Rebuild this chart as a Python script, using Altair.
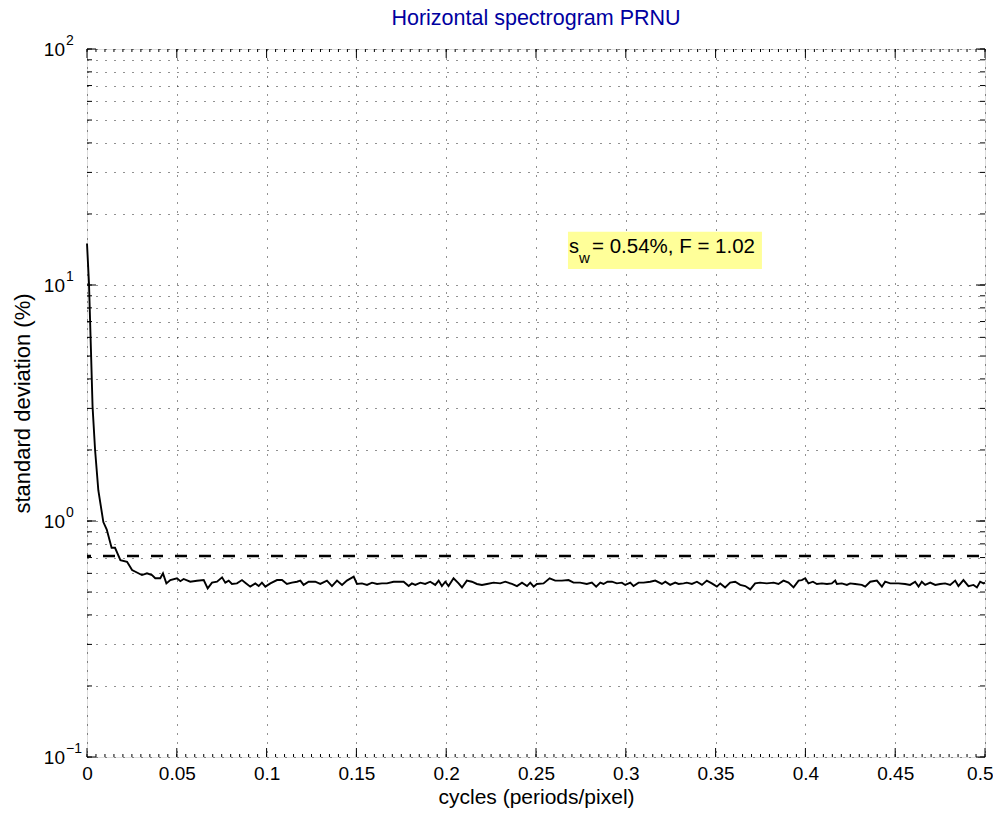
import altair as alt
import pandas as pd

# ---------------- data ----------------
freq = [0.0, 0.0011, 0.0022, 0.0031, 0.0045, 0.0063, 0.0091, 0.011, 0.0137, 0.0156,
        0.0186, 0.0223, 0.0251, 0.0278, 0.0306, 0.0334, 0.0362, 0.0380, 0.0408, 0.0423,
        0.0442, 0.0464, 0.0501, 0.0520, 0.0538, 0.0575, 0.0612, 0.0650, 0.0672, 0.0696,
        0.0724, 0.0752, 0.0770, 0.0789, 0.0807, 0.0835,
        0.0863, 0.0881, 0.0909, 0.0937, 0.0956, 0.0974, 0.0993, 0.1021, 0.1058, 0.1086,
        0.1113, 0.1141, 0.1169, 0.1188, 0.1206, 0.1234, 0.1271, 0.1299, 0.1336, 0.1364,
        0.1392, 0.1420, 0.1447, 0.1485, 0.1503, 0.1531, 0.1559, 0.1587, 0.1615, 0.1642,
        0.1670, 0.1707, 0.1763, 0.1791, 0.1809, 0.1828, 0.1856, 0.1883, 0.1911, 0.1939,
        0.1958, 0.1976, 0.1995, 0.2013, 0.2041, 0.2069, 0.2088, 0.2115, 0.2143, 0.2171,
        0.2199, 0.2227, 0.2264, 0.2301, 0.2329, 0.2366, 0.2394, 0.2422, 0.2450, 0.2468,
        0.2487, 0.2505, 0.2542, 0.2576, 0.2607, 0.2644, 0.2681, 0.2709, 0.2746, 0.2783,
        0.2811, 0.2835, 0.2858, 0.2876, 0.2898, 0.2923, 0.2950, 0.2978, 0.2997, 0.3025,
        0.3043, 0.3071, 0.3099, 0.3136, 0.3164, 0.3201, 0.3220, 0.3247, 0.3275, 0.3294,
        0.3322, 0.3340, 0.3368, 0.3396, 0.3424, 0.3451, 0.3479, 0.3507, 0.3526, 0.3553,
        0.3581, 0.3609, 0.3637, 0.3665, 0.3693, 0.3720, 0.3748, 0.3785, 0.3823, 0.3850,
        0.3878, 0.3906, 0.3934, 0.3962, 0.3980, 0.3999, 0.4017, 0.4042, 0.4064, 0.4092,
        0.4120, 0.4147, 0.4166, 0.4175, 0.4203, 0.4231, 0.4249, 0.4277, 0.4314, 0.4333,
        0.4361, 0.4398, 0.4426, 0.4444, 0.4472, 0.4518, 0.4555, 0.4583, 0.4611, 0.4630,
        0.4648, 0.4667, 0.4695, 0.4723, 0.4750, 0.4778, 0.4806, 0.4834, 0.4852, 0.4880,
        0.4908, 0.4936, 0.4955, 0.4973, 0.4992, 0.5000]

std_pct = [15.0, 10.2, 5.3, 3.05, 2.0, 1.35, 0.99, 0.92, 0.77, 0.77,
           0.683, 0.672, 0.620, 0.605, 0.590, 0.600, 0.590, 0.572, 0.572, 0.600,
           0.544, 0.562, 0.572, 0.556, 0.568, 0.553, 0.558, 0.562, 0.518, 0.548,
           0.553, 0.577, 0.548, 0.559, 0.541, 0.544,
           0.562, 0.548, 0.527, 0.544, 0.530, 0.548, 0.527, 0.544, 0.562, 0.562,
           0.541, 0.548, 0.553, 0.559, 0.536, 0.553, 0.553, 0.541, 0.559, 0.530,
           0.559, 0.536, 0.559, 0.581, 0.541, 0.544, 0.536, 0.548, 0.541, 0.544,
           0.544, 0.553, 0.553, 0.530, 0.544, 0.536, 0.548, 0.541, 0.553, 0.536,
           0.559, 0.530, 0.553, 0.530, 0.572, 0.544, 0.523, 0.559, 0.553, 0.541,
           0.536, 0.541, 0.548, 0.544, 0.553, 0.541, 0.530, 0.548, 0.530, 0.548,
           0.527, 0.541, 0.544, 0.572, 0.559, 0.559, 0.562, 0.548, 0.548, 0.541,
           0.548, 0.527, 0.548, 0.541, 0.553, 0.553, 0.544, 0.548, 0.536, 0.548,
           0.530, 0.548, 0.548, 0.553, 0.559, 0.541, 0.553, 0.536, 0.548, 0.541,
           0.544, 0.548, 0.541, 0.553, 0.536, 0.559, 0.544, 0.527, 0.544, 0.523,
           0.548, 0.553, 0.536, 0.530, 0.513, 0.544, 0.548, 0.544, 0.548, 0.541,
           0.559, 0.548, 0.523, 0.559, 0.562, 0.572, 0.544, 0.553, 0.541, 0.544,
           0.541, 0.544, 0.559, 0.541, 0.544, 0.536, 0.544, 0.541, 0.536, 0.527,
           0.553, 0.559, 0.527, 0.553, 0.544, 0.544, 0.541, 0.536, 0.553, 0.527,
           0.553, 0.536, 0.548, 0.536, 0.541, 0.544, 0.536, 0.559, 0.530, 0.562,
           0.530, 0.536, 0.523, 0.553, 0.544, 0.548]

threshold = [0.71]

title_text = ["Horizontal spectrogram PRNU"]
x_ticks = [0.0, 0.05, 0.1, 0.15, 0.2, 0.25, 0.3, 0.35, 0.4, 0.45, 0.5]
x_minor = [i * 0.005 for i in range(101)]
y_major = [0.1, 1.0, 10.0, 100.0]
y_exponents = ["\u22121", "0", "1", "2"]
y_grid = [m * d for d in (0.1, 1.0, 10.0) for m in range(1, 10)] + [100.0]

ann_box_x = [0.2678]
ann_box_x2 = [0.3758]
ann_box_y = [11.7]
ann_box_y2 = [16.8]
ann_text_x = [0.2684]
ann_text_y = [13.62]

# ---------------- chart ----------------
W, H = 898, 708
FONT = "Liberation Sans"

xs = alt.Scale(domain=[0, 0.5], nice=False, zero=False)
ys = alt.Scale(type="log", domain=[0.1, 100], nice=False)

curve_df = pd.DataFrame({"f": freq, "s": std_pct})

last_label = "datum.value >= 0.5"

curve = alt.Chart(curve_df).mark_line(color="black", strokeWidth=1.9).encode(
    x=alt.X("f:Q", scale=xs, axis=alt.Axis(
        values=x_ticks, format="~g", grid=True, gridDash=[1, 8], gridColor="#222",
        gridWidth=1, ticks=False, domain=False, labelFont=FONT, labelFontSize=19,
        labelColor="black", labelPadding=7, labelFlush=False, labelOverlap=False,
        labelAlign={"condition": {"test": last_label, "value": "right"}, "value": "center"},
        labelOffset={"condition": {"test": last_label, "value": 8}, "value": 0},
        title="cycles (periods/pixel)", titleFont=FONT, titleFontSize=21,
        titleFontWeight="normal", titleColor="black",
        titleX=W / 2, titleY=46, titleBaseline="alphabetic", titleAnchor="middle")),
    y=alt.Y("s:Q", scale=ys, axis=alt.Axis(
        values=y_grid, grid=True, gridDash=[1, 8], gridColor="#222", gridWidth=1,
        ticks=False, domain=False, labels=False,
        title="standard deviation (%)", titleFont=FONT, titleFontSize=22,
        titleFontWeight="normal", titleColor="black", titlePadding=53)),
)

thr = alt.Chart(pd.DataFrame({"t": threshold})).mark_rule(
    color="black", strokeWidth=2.5, strokeDash=[12, 12], strokeDashOffset=18
).encode(y=alt.Y("t:Q", scale=ys))

xt_df = pd.DataFrame({"x": x_ticks})
xm_df = pd.DataFrame({"x": x_minor})
ym_df = pd.DataFrame({"y": y_major})
yg_df = pd.DataFrame({"y": y_grid})

tick_style = dict(color="black", strokeWidth=1)
ticks = [
    alt.Chart(xt_df).mark_rule(**tick_style).encode(
        x=alt.X("x:Q", scale=xs), y=alt.value(H), y2=alt.value(H - 9)),
    alt.Chart(xt_df).mark_rule(**tick_style).encode(
        x=alt.X("x:Q", scale=xs), y=alt.value(0), y2=alt.value(9)),
    alt.Chart(xm_df).mark_rule(**tick_style).encode(
        x=alt.X("x:Q", scale=xs), y=alt.value(H), y2=alt.value(H - 3)),
    alt.Chart(xm_df).mark_rule(**tick_style).encode(
        x=alt.X("x:Q", scale=xs), y=alt.value(0), y2=alt.value(3)),
    alt.Chart(ym_df).mark_rule(**tick_style).encode(
        y=alt.Y("y:Q", scale=ys), x=alt.value(0), x2=alt.value(9)),
    alt.Chart(ym_df).mark_rule(**tick_style).encode(
        y=alt.Y("y:Q", scale=ys), x=alt.value(W), x2=alt.value(W - 9)),
    alt.Chart(yg_df).mark_rule(**tick_style).encode(
        y=alt.Y("y:Q", scale=ys), x=alt.value(0), x2=alt.value(5)),
    alt.Chart(yg_df).mark_rule(**tick_style).encode(
        y=alt.Y("y:Q", scale=ys), x=alt.value(W), x2=alt.value(W - 5)),
]

ylab_df = pd.DataFrame({"y": y_major, "base": ["10"] * 4, "exp": y_exponents})
ylab_base = alt.Chart(ylab_df).mark_text(
    font=FONT, fontSize=19, align="right", baseline="alphabetic", dy=7, color="black"
).encode(y=alt.Y("y:Q", scale=ys), x=alt.value(-22), text="base:N")
ylab_exp = alt.Chart(ylab_df).mark_text(
    font=FONT, fontSize=14, align="left", baseline="alphabetic", dy=-4, color="black"
).encode(y=alt.Y("y:Q", scale=ys), x=alt.value(-21), text="exp:N")

ann_df = pd.DataFrame({"x": ann_box_x, "x2": ann_box_x2, "y": ann_box_y, "y2": ann_box_y2,
                       "tx": ann_text_x, "ty": ann_text_y,
                       "s": ["s"], "w": ["w"], "rest": ["= 0.54%, F = 1.02"]})
ann_box = alt.Chart(ann_df).mark_rect(color="#ffff99").encode(
    x=alt.X("x:Q", scale=xs), x2="x2:Q", y=alt.Y("y:Q", scale=ys), y2="y2:Q")
ann_s = alt.Chart(ann_df).mark_text(
    font=FONT, fontSize=20, align="left", baseline="alphabetic", color="black"
).encode(x=alt.X("tx:Q", scale=xs), y=alt.Y("ty:Q", scale=ys), text="s:N")
ann_w = alt.Chart(ann_df).mark_text(
    font=FONT, fontSize=15, align="left", baseline="alphabetic", color="black", dx=10, dy=10
).encode(x=alt.X("tx:Q", scale=xs), y=alt.Y("ty:Q", scale=ys), text="w:N")
ann_rest = alt.Chart(ann_df).mark_text(
    font=FONT, fontSize=20.5, align="left", baseline="alphabetic", color="black", dx=23
).encode(x=alt.X("tx:Q", scale=xs), y=alt.Y("ty:Q", scale=ys), text="rest:N")

title = alt.Chart(pd.DataFrame({"t": title_text})).mark_text(
    font=FONT, fontSize=21.5, align="center", baseline="alphabetic", color="#0000a0"
).encode(x=alt.value(W / 2), y=alt.value(-24), text="t:N")

chart = alt.layer(
    curve, thr, *ticks, ylab_base, ylab_exp, ann_box, ann_s, ann_w, ann_rest, title
).properties(
    width=W, height=H,
    autosize=alt.AutoSizeParams(type="none"),
    padding={"left": 79, "top": 41, "right": 8, "bottom": 51},
).configure_view(stroke="black", strokeWidth=1.5).configure(background="white")

chart.save("out.html", embed_options={"renderer": "svg", "actions": False})
